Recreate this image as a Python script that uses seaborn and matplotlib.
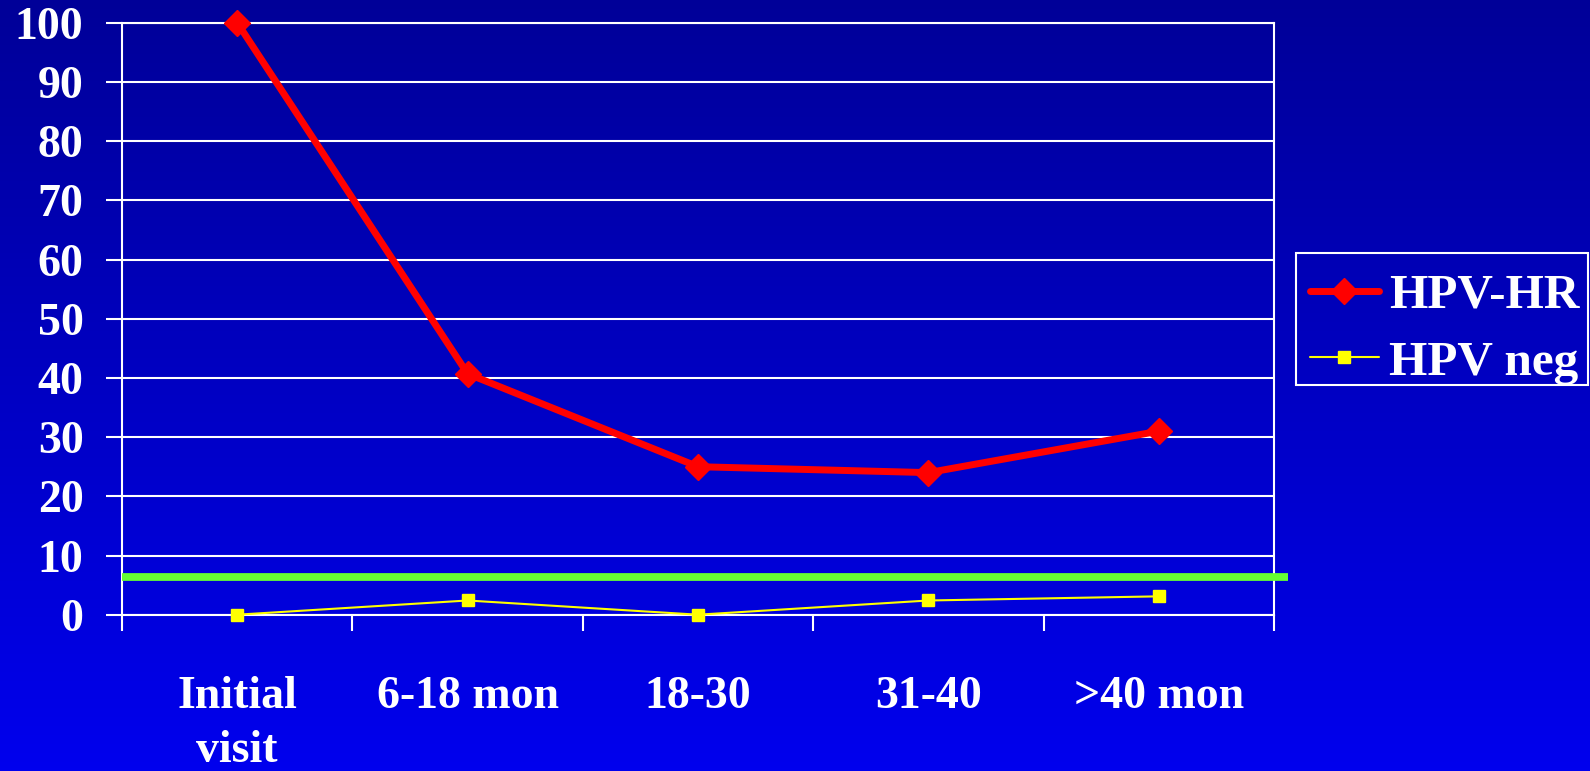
import matplotlib
matplotlib.use("Agg")
import matplotlib.pyplot as plt
import seaborn as sns
import numpy as np
import pandas as pd
from matplotlib.colors import LinearSegmentedColormap
from matplotlib.patches import Rectangle
from matplotlib.transforms import blended_transform_factory

# data
categories = ["Initial\nvisit", "6-18 mon", "18-30", "31-40", ">40 mon"]
hpv_hr = [100, 40.7, 25.0, 24.0, 31.0]
hpv_neg = [0, 2.4, 0, 2.4, 3.1]
threshold = 6.3

sns.set_style("white")
plt.rcParams["font.family"] = ["Liberation Serif", "DejaVu Serif"]
plt.rcParams["font.weight"] = "bold"

W, H = 1590, 771
fig = plt.figure(figsize=(W / 100, H / 100), dpi=100)

# gradient background, dark blue at top to brighter blue at bottom
bg = fig.add_axes([0, 0, 1, 1], zorder=-10)
grad = np.linspace(0, 1, 256).reshape(-1, 1)
cmap = LinearSegmentedColormap.from_list("bg", ["#000098", "#0000EE"])
bg.imshow(grad, aspect="auto", cmap=cmap, extent=[0, 1, 0, 1], origin="upper")
bg.set_axis_off()

ax = fig.add_axes([122 / W, 1 - 614.7 / H, (1274 - 122) / W, (614.7 - 22.7) / H])
ax.set_facecolor("none")

df = pd.DataFrame({"pos": np.arange(len(categories)), "hr": hpv_hr, "neg": hpv_neg})

sns.lineplot(data=df, x="pos", y="hr", ax=ax, color="#FF0000", lw=5,
             marker="D", ms=13.5, mec="#FF0000", mew=1, clip_on=False,
             label="HPV-HR", zorder=5)
sns.lineplot(data=df, x="pos", y="neg", ax=ax, color="#FFFF00", lw=1.5,
             marker="s", ms=8, mec="#FFFF00", mew=1, clip_on=False,
             label="HPV neg", zorder=4)

# green reference line, runs a bit past the right edge
tr = blended_transform_factory(ax.transAxes, ax.transData)
ax.plot([0, 1.012], [threshold, threshold], color="#66FF33", lw=5.6,
        transform=tr, clip_on=False, zorder=3, solid_capstyle="butt")

ax.set_xlim(-0.5, len(categories) - 0.5)
ax.set_ylim(0, 100)
ax.set_yticks(range(0, 101, 10))
ax.yaxis.grid(True, color="white", lw=1.5)
ax.set_axisbelow(True)

# boundary ticks as major, labels on minor
ax.set_xticks(np.arange(-0.5, len(categories), 1.0))
ax.set_xticklabels([])
ax.set_xticks(np.arange(len(categories)), minor=True)
ax.set_xticklabels(categories, minor=True, fontsize=33, fontweight="bold",
                   color="white", linespacing=1.38)
ax.tick_params(axis="x", which="major", length=16.5 / 1.389, width=1.5,
               color="white", direction="out", bottom=True)
ax.tick_params(axis="x", which="minor", length=0, pad=44)
ax.tick_params(axis="y", length=16.3 / 1.389, width=1.5, color="white",
               left=True, pad=16, labelsize=33, labelcolor="white")
for lab in ax.get_yticklabels():
    lab.set_fontweight("bold")

for s in ax.spines.values():
    s.set_color("white")
    s.set_linewidth(1.5)
ax.set_xlabel("")
ax.set_ylabel("")

# legend without its own frame; box drawn separately to match the original
leg = ax.legend(loc="center left", bbox_to_anchor=(1300 / W, 1 - 329 / H),
                bbox_transform=fig.transFigure, frameon=False,
                prop={"size": 35.5, "weight": "bold"}, handlelength=1.4,
                handletextpad=0.2, labelspacing=0.45, borderpad=0.2,
                borderaxespad=0)
for t in leg.get_texts():
    t.set_color("white")
fig.patches.append(Rectangle((1296 / W, 1 - 385 / H), (1588 - 1296) / W,
                             (385 - 252.7) / H, transform=fig.transFigure,
                             fill=False, edgecolor="white", lw=1.5, zorder=6))

fig.savefig("out.png", dpi=100)
